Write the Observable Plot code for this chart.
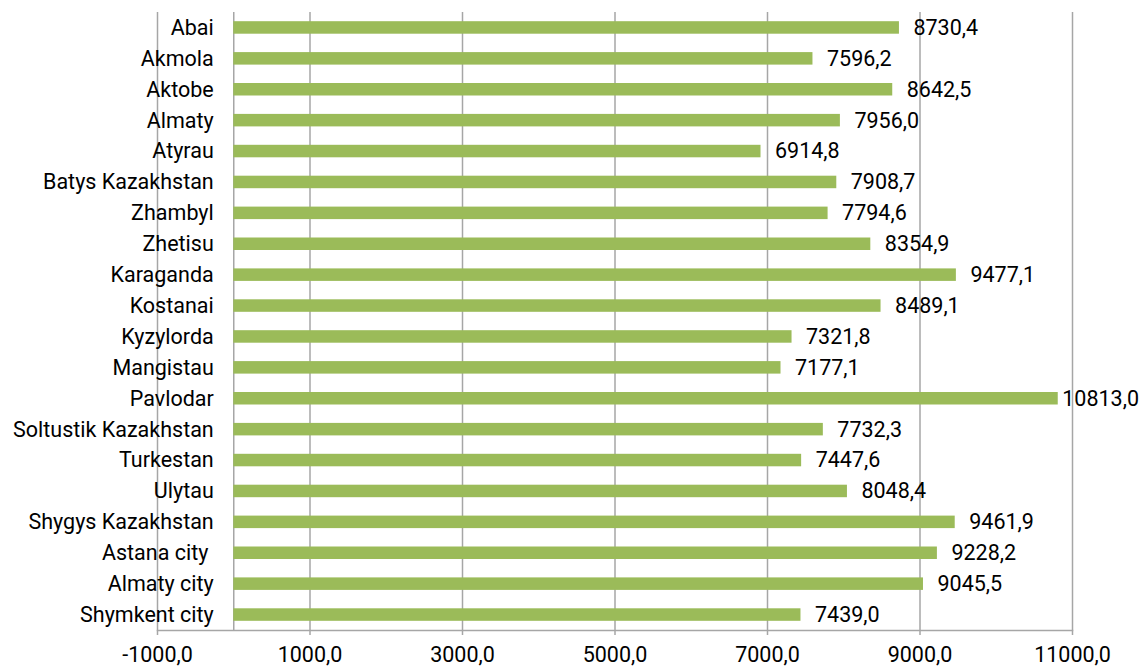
<!DOCTYPE html>
<html>
<head>
<meta charset="utf-8">
<script src="https://cdn.jsdelivr.net/npm/d3@7"></script>
<script src="https://cdn.jsdelivr.net/npm/@observablehq/plot@0.6"></script>
<style>
  html, body { margin: 0; padding: 0; background: #fff; }
  svg text { white-space: pre; }
</style>
</head>
<body>
<div id="chart"></div>
<script>
const regions = ["Abai", "Akmola", "Aktobe", "Almaty", "Atyrau", "Batys Kazakhstan", "Zhambyl", "Zhetisu", "Karaganda", "Kostanai", "Kyzylorda", "Mangistau", "Pavlodar", "Soltustik Kazakhstan", "Turkestan", "Ulytau", "Shygys Kazakhstan", "Astana city ", "Almaty city", "Shymkent city"];
const values = [8730.4, 7596.2, 8642.5, 7956.0, 6914.8, 7908.7, 7794.6, 8354.9, 9477.1, 8489.1, 7321.8, 7177.1, 10813.0, 7732.3, 7447.6, 8048.4, 9461.9, 9228.2, 9045.5, 7439.0];
const xTicks = [-1000, 1000, 3000, 5000, 7000, 9000, 11000];

const data = regions.map((r, i) => ({region: r, value: values[i]}));
const fmt = v => d3.format(".1f")(v).replace(".", ",").replace("−", "-");
const xMax = 11000;
const nearEdge = d => d.value > xMax - 500;

const gray = "#a6a6a6";
const fs = 21.5;
const chart = Plot.plot({
  width: 1146,
  height: 666,
  marginLeft: 157,
  marginRight: 74,
  marginTop: 12,
  marginBottom: 36,
  style: {fontFamily: "Roboto, sans-serif", fontSize: fs + "px", color: "#000", background: "#fff"},
  x: {domain: [-1000, xMax], ticks: xTicks, tickFormat: fmt, label: null},
  y: {domain: regions, padding: 0, round: false, label: null, axis: null},
  marks: [
    Plot.gridX(xTicks, {stroke: gray, strokeOpacity: 1, strokeWidth: 1.5}),
    Plot.ruleX([0], {stroke: gray, strokeWidth: 1.5}),
    Plot.frame({anchor: "bottom", stroke: gray, strokeWidth: 1.5}),
    Plot.barX(data, {x: "value", y: "region", fill: "#9bbb59", insetTop: 9.2, insetBottom: 9.2}),
    Plot.text(data.filter(d => !nearEdge(d)), {x: "value", y: "region", text: d => fmt(d.value), dx: 14, textAnchor: "start", fontSize: fs, fill: "#000"}),
    Plot.text(data.filter(nearEdge), {x: "value", y: "region", text: d => fmt(d.value), dx: 4, textAnchor: "start", fontSize: fs, fill: "#000"}),
    Plot.text(data, {x: () => 0, y: "region", text: "region", dx: -20, textAnchor: "end", fontSize: fs, fill: "#000"}),
    Plot.axisX(xTicks, {tickFormat: fmt, tickSize: 5, tickPadding: 11, stroke: gray, strokeWidth: 1.5, fontSize: fs, label: null})
  ]
});
document.getElementById("chart").appendChild(chart);
</script>
</body>
</html>
